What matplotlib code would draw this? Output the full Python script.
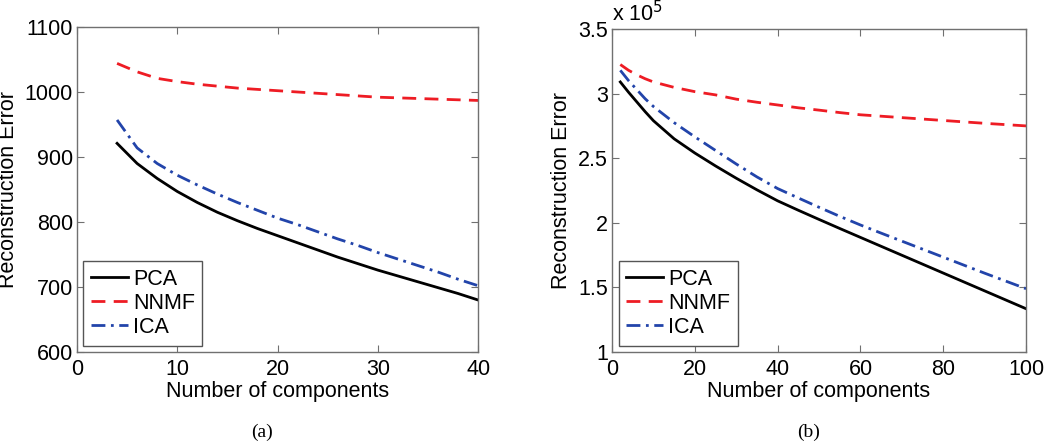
import numpy as np
import matplotlib
matplotlib.use("Agg")
import matplotlib.pyplot as plt
from matplotlib.ticker import FuncFormatter

plt.rcParams['font.family'] = ['Liberation Sans', 'DejaVu Sans']

# panel (a)
xa = [4, 6, 8, 10, 12, 14, 16, 18, 20, 22, 24, 26, 28, 30, 32, 34, 36, 38, 40]
pca_a = [921, 890, 867, 847, 830, 815, 802, 790, 779, 768, 757, 746, 736,
         726, 717, 708, 699, 690, 680]
nnmf_a = [1044, 1031, 1021, 1016, 1012, 1009, 1006, 1004, 1002, 1000, 998,
          996, 994, 992, 991, 990, 989, 988, 987]
ica_a = [957, 914, 890, 872, 857, 843, 830, 818, 806, 796, 785, 774, 764,
         753, 743, 733, 723, 712, 702]

# panel (b), values in units of 1e5
xb = [2, 4, 6, 8, 10, 15, 20, 25, 30, 35, 40, 45, 50, 55, 60, 65, 70, 75,
      80, 85, 90, 95, 100]
pca_b = [3.09, 3.01, 2.935, 2.86, 2.79, 2.65, 2.54, 2.44, 2.345, 2.255,
         2.17, 2.097, 2.026, 1.956, 1.887, 1.818, 1.749, 1.68, 1.611, 1.542,
         1.473, 1.404, 1.335]
nnmf_b = [3.225, 3.18, 3.145, 3.115, 3.09, 3.048, 3.015, 2.99, 2.957, 2.933,
          2.912, 2.89, 2.872, 2.853, 2.836, 2.825, 2.814, 2.803, 2.792, 2.781,
          2.77, 2.76, 2.75]
ica_b = [3.18, 3.10, 3.03, 2.96, 2.90, 2.775, 2.665, 2.56, 2.455, 2.355,
         2.265, 2.192, 2.12, 2.05, 1.983, 1.92, 1.858, 1.796, 1.734, 1.672,
         1.61, 1.55, 1.49]

labels = ['PCA', 'NNMF', 'ICA']
fs = 15.5

fig = plt.figure(figsize=(10.5, 4.44), dpi=100)
ax1 = fig.add_axes([0.0733, 0.2072, 0.382, 0.732])
ax2 = fig.add_axes([0.5829, 0.2072, 0.3943, 0.7275])


def draw(ax, x, pca, nnmf, ica):
    ax.plot(x, pca, color='black', lw=2, label=labels[0])
    ax.plot(x, nnmf, color='#ee1c24', lw=2, dashes=(5, 3), label=labels[1])
    ax.plot(x, ica, color='#2244aa', lw=2, dashes=(5, 2, 1, 2), label=labels[2])
    for s in ax.spines.values():
        s.set_color('#707070')
        s.set_linewidth(1)
    ax.tick_params(direction='in', top=True, right=True, length=5,
                   color='#707070', labelsize=fs)
    ax.tick_params(axis='x', pad=5)
    ax.tick_params(axis='y', pad=3)
    ax.set_xlabel('Number of components', fontsize=fs, labelpad=1)
    ax.set_ylabel('Reconstruction Error', fontsize=fs, labelpad=4)
    leg = ax.legend(loc='lower left', fontsize=fs, handlelength=1.7,
                    handletextpad=0.25, borderpad=0.35, labelspacing=0.15,
                    borderaxespad=0.3, fancybox=False, framealpha=1)
    leg.get_frame().set_edgecolor('#555555')
    leg.get_frame().set_linewidth(1)


draw(ax1, xa, pca_a, nnmf_a, ica_a)
ax1.set_xlim(0, 40)
ax1.set_ylim(600, 1100)
ax1.set_xticks([0, 10, 20, 30, 40])
ax1.set_yticks([600, 700, 800, 900, 1000, 1100])

draw(ax2, xb, pca_b, nnmf_b, ica_b)
ax2.set_xlim(0, 100)
ax2.set_ylim(1, 3.5)
ax2.set_xticks([0, 20, 40, 60, 80, 100])
ax2.set_yticks([1, 1.5, 2, 2.5, 3, 3.5])
ax2.yaxis.set_major_formatter(FuncFormatter(lambda v, p: '%g' % v))
ax2.text(0.0, 1.01, r'x 10$^5$', transform=ax2.transAxes, fontsize=fs,
         ha='left', va='bottom')

fig.text(0.25, 0.015, '(a)', family='Liberation Serif', fontsize=14, ha='center')
fig.text(0.77, 0.015, '(b)', family='Liberation Serif', fontsize=14, ha='center')

fig.savefig('out.png', dpi=100)
